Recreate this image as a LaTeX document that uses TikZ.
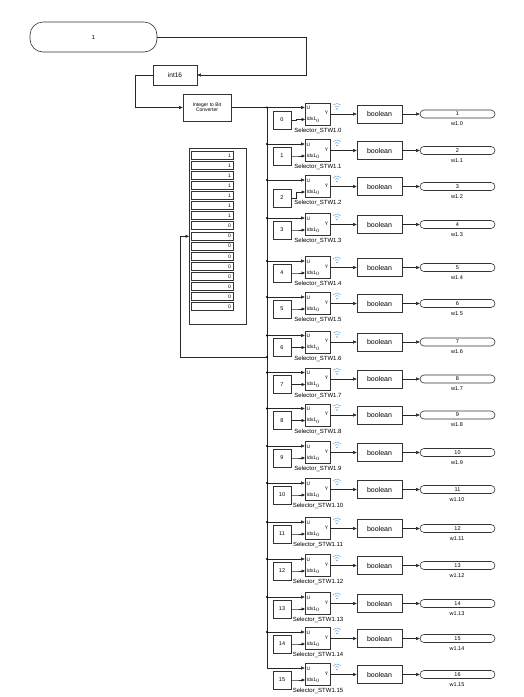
\documentclass[tikz,border=0pt]{standalone}
\usepackage{fontspec}
\setmainfont{Liberation Sans}
\usetikzlibrary{arrows.meta}
\newcommand\fsz[1]{\fontsize{#1}{#1}\selectfont}
\definecolor{sigblue}{RGB}{110,165,225}
\begin{document}
\begin{tikzpicture}[x=1pt,y=-1pt,
  blk/.style={draw=black!80, line width=0.6pt, fill=white, inner sep=0pt},
  ln/.style={draw=black!85, line width=0.5pt},
  arr/.style={ln, -{Triangle[length=3.5pt,width=3pt]}},
  jdot/.style={fill=black, circle, inner sep=0pt, minimum size=2.4pt},
  lbl/.style={inner sep=0pt, font=\fsz{5.5}},
  sig/.style={draw=sigblue, line width=0.5pt}]
\useasboundingbox (0,0) rectangle (524,697);

% top chain
\node[blk, rounded corners=13pt, minimum width=127pt, minimum height=30pt, font=\fsz{6}] (c1) at (93.5,37) {1};
\node[blk, minimum width=44pt, minimum height=20pt, font=\fsz{6.5}] (i16) at (175,75) {int16};
\node[blk, minimum width=48pt, minimum height=27pt, align=center, font=\fsz{5}] (conv) at (207,107.5) {Integer to Bit\\Converter};
\draw[arr] (c1.east) -| (306,75) -- (i16.east);
\draw[arr] (i16.west) -- ++(-17,0) |- (conv.west);

% display block
\node[blk, minimum width=57pt, minimum height=176pt, anchor=north west] (disp) at (189,148) {};
\foreach \j in {0,...,15}{
  \node[blk, minimum width=42pt, minimum height=8pt, anchor=west] (dr\j) at (190.5,155+10.1*\j) {};
  \node[lbl, font=\fsz{5}, anchor=east] (dv\j) at (231,155.3+10.1*\j) {\ifnum\j<7 1\else 0\fi};
}

% bus
\coordinate (bus0) at (267,107.5);
\draw[ln] (conv.east) -- (bus0);

\foreach \i/\uy/\cy in {0/107.5/120,1/144/156,2/180/198,3/218/230,4/261/273,5/297/309,6/335.5/347.5,7/372.5/384.5,8/408.5/420.5,9/446/458,10/483/495,11/522/534,12/559/571,13/597/609,14/632/644,15/668/680}{
  \pgfmathtruncatemacro\n{\i+1}
  \coordinate (bus\i) at (267,\uy);
  \coordinate (ix\i) at (305,\uy+12);
  \node[blk, minimum width=25pt, minimum height=22pt] (sel\i) at (317.5,\uy+6.5) {};
  \node[lbl, font=\fsz{5}, anchor=west] (su\i) at (306.5,\uy+0.5) {U};
  \node[lbl, font=\fsz{5}, anchor=west] (si\i) at (306.5,\uy+12) {Idx1$_0$};
  \node[lbl, font=\fsz{5}, anchor=east] (sy\i) at (328.5,\uy+5.5) {Y};
  \node[lbl, font=\fsz{6}] (sl\i) at (318,\uy+23) {Selector\_STW1.\i};
  \node[blk, minimum size=18pt, font=\fsz{5.5}] (k\i) at (282,\cy) {\i};
  \node[blk, minimum width=45pt, minimum height=18pt, font=\fsz{7}] (bool\i) at (379.5,\uy+6.5) {boolean};
  \node[blk, rounded corners=4pt, minimum width=75pt, minimum height=8pt, font=\fsz{5.5}] (go\i) at (457.5,\uy+6.5) {\n};
  \node[lbl] (wl\i) at (457,\uy+16.5) {w1.\i};
  \draw[arr] (bus\i) -- (sel\i.west |- bus\i);
  \draw[arr] (k\i.east) -- ++(4.5,0) |- (ix\i);
  \draw[arr] (sel\i.east) -- (bool\i.west);
  \draw[arr] (bool\i.east) -- (go\i.west);
  \fill[sigblue] (337,\uy+1.5) circle (0.9pt);
  \draw[sig] (337-2.1,\uy-0.6) arc[start angle=225,end angle=315,radius=3];
  \draw[sig] (337-3.9,\uy-2.4) arc[start angle=225,end angle=315,radius=5.5];
}
\draw[ln] (bus0) -- (bus15);
\foreach \i in {0,...,14}{\node[jdot] at (bus\i) {};}

% feedback to display
\coordinate (fb) at (267,357);
\node[jdot] at (fb) {};
\draw[arr] (fb) -- (180,357) |- (disp.west);
\end{tikzpicture}
\end{document}
